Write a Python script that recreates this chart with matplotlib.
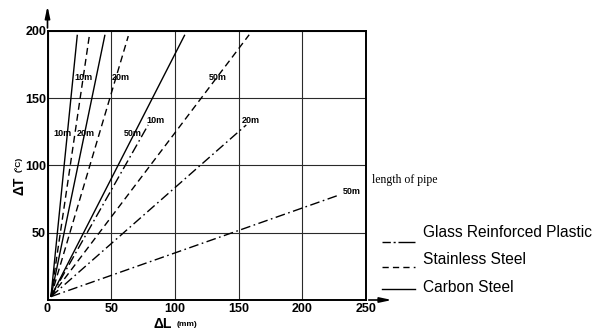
import matplotlib
matplotlib.use("Agg")
import matplotlib.pyplot as plt
from matplotlib.lines import Line2D

# ---------------- data ----------------
pipe_lengths = ["10m", "20m", "50m"]
start_dL = 2.7   # all lines converge here (mm)
start_dT = 2.5   # (°C)

carbon_end_dL = [23.4, 45.1, 107.8]
carbon_end_dT = [197, 197, 197]
stainless_end_dL = [32.8, 63.4, 158.3]
stainless_end_dT = [196, 196, 197]
grp_end_dL = [79, 156, 229]
grp_end_dT = [130, 130, 78]

carbon_label_dL = [11.8, 30.2, 67.0]
carbon_label_dT = [124, 124, 124]
stainless_label_dL = [28.6, 57.3, 133.7]
stainless_label_dT = [165, 165, 165]
grp_label_dL = [84.5, 159.5, 238.5]
grp_label_dT = [133.5, 133.5, 80.5]

x_ticks = [0, 50, 100, 150, 200, 250]
x_tick_labels = ["0", "50", "100", "150", "200", "250"]
y_ticks = [50, 100, 150, 200]
y_tick_labels = ["50", "100", "150", "200"]

legend_names = ["Glass Reinforced Plastic", "Stainless Steel", "Carbon Steel"]

# ---------------- figure ----------------
W, H = 599, 332
fig = plt.figure(figsize=(W / 100, H / 100), dpi=100)
fig.patch.set_facecolor("white")
ax = fig.add_axes([47.5 / W, 1 - 300 / H, (366 - 47.5) / W, (300 - 30.7) / H])
ax.set_xlim(0, 250)
ax.set_ylim(0, 200)

tick_font = dict(family=["Liberation Sans", "DejaVu Sans"], weight="bold", size=9)
lab_font = dict(family=["Liberation Sans Narrow", "Liberation Sans", "DejaVu Sans"], weight="bold", size=6.5)

ax.set_xticks(x_ticks)
ax.set_xticklabels(x_tick_labels, **tick_font)
ax.set_yticks(y_ticks)
ax.set_yticklabels(y_tick_labels, **tick_font)
ax.tick_params(axis="x", length=0, pad=2.5)
ax.tick_params(axis="y", length=0, pad=1)
ax.grid(True, color="#2a2a2a", linewidth=0.8)
ax.set_axisbelow(True)
for s in ax.spines.values():
    s.set_linewidth(1.4)
    s.set_color("black")

# material lines
solid = "-"
dashed = (0, (5, 3))
dashdot = (0, (7, 2.5, 1.2, 2.5))
for i in range(3):
    ax.plot([start_dL, carbon_end_dL[i]], [start_dT, carbon_end_dT[i]],
            color="black", lw=1.0, linestyle=solid, solid_capstyle="butt")
    ax.plot([start_dL, stainless_end_dL[i]], [start_dT, stainless_end_dT[i]],
            color="black", lw=1.0, linestyle=dashed)
    ax.plot([start_dL, grp_end_dL[i]], [start_dT, grp_end_dT[i]],
            color="black", lw=1.0, linestyle=dashdot)
    ax.text(carbon_label_dL[i], carbon_label_dT[i], pipe_lengths[i], ha="center", va="center", **lab_font)
    ax.text(stainless_label_dL[i], stainless_label_dT[i], pipe_lengths[i], ha="center", va="center", **lab_font)
    ax.text(grp_label_dL[i], grp_label_dT[i], pipe_lengths[i], ha="center", va="center", **lab_font)

# axis arrows
arrow = dict(arrowstyle="-|>,head_length=0.7,head_width=0.15", color="black", lw=1.2)
ax.annotate("", xy=(0, 1.102), xytext=(0, 1.0), xycoords="axes fraction",
            textcoords="axes fraction", arrowprops=arrow, annotation_clip=False)
ax.annotate("", xy=(1.09, 0), xytext=(1.0, 0), xycoords="axes fraction",
            textcoords="axes fraction", arrowprops=arrow, annotation_clip=False)

# axis titles
fig.text(163 / W, 1 - 324 / H, "ΔL", ha="center", va="center",
         family=["Liberation Sans", "DejaVu Sans"], weight="bold", size=10)
fig.text(187 / W, 1 - 325 / H, "(mm)", ha="center", va="center",
         family=["Liberation Sans", "DejaVu Sans"], weight="bold", size=6)
fig.text(19 / W, 1 - 186 / H, "ΔT", ha="center", va="center", rotation=90,
         family=["Liberation Sans", "DejaVu Sans"], weight="bold", size=10)
fig.text(19 / W, 1 - 164 / H, "(°C)", ha="center", va="center", rotation=90,
         family=["Liberation Sans", "DejaVu Sans"], weight="bold", size=6)

# "length of pipe" note
fig.text(372 / W, 1 - 180 / H, "length of pipe", ha="left", va="center",
         family=["Liberation Serif", "DejaVu Serif"], size=8.5)

# legend
leg_styles = [(0, (6, 2, 1.5, 2, 20, 5)), (0, (4.5, 3)), "-"]
leg_line_y = [241.7, 266.7, 289.3]
leg_text_y = [232.5, 260, 287]
for name, ls, ly, ty in zip(legend_names, leg_styles, leg_line_y, leg_text_y):
    fig.add_artist(Line2D([381.7 / W, 415 / W], [1 - ly / H, 1 - ly / H],
                          transform=fig.transFigure, color="black", lw=1.0, linestyle=ls))
    fig.text(423 / W, 1 - ty / H, name, ha="left", va="center",
             family=["Liberation Sans", "DejaVu Sans"], size=11.2)

fig.savefig("out.png", dpi=100, facecolor="white")
